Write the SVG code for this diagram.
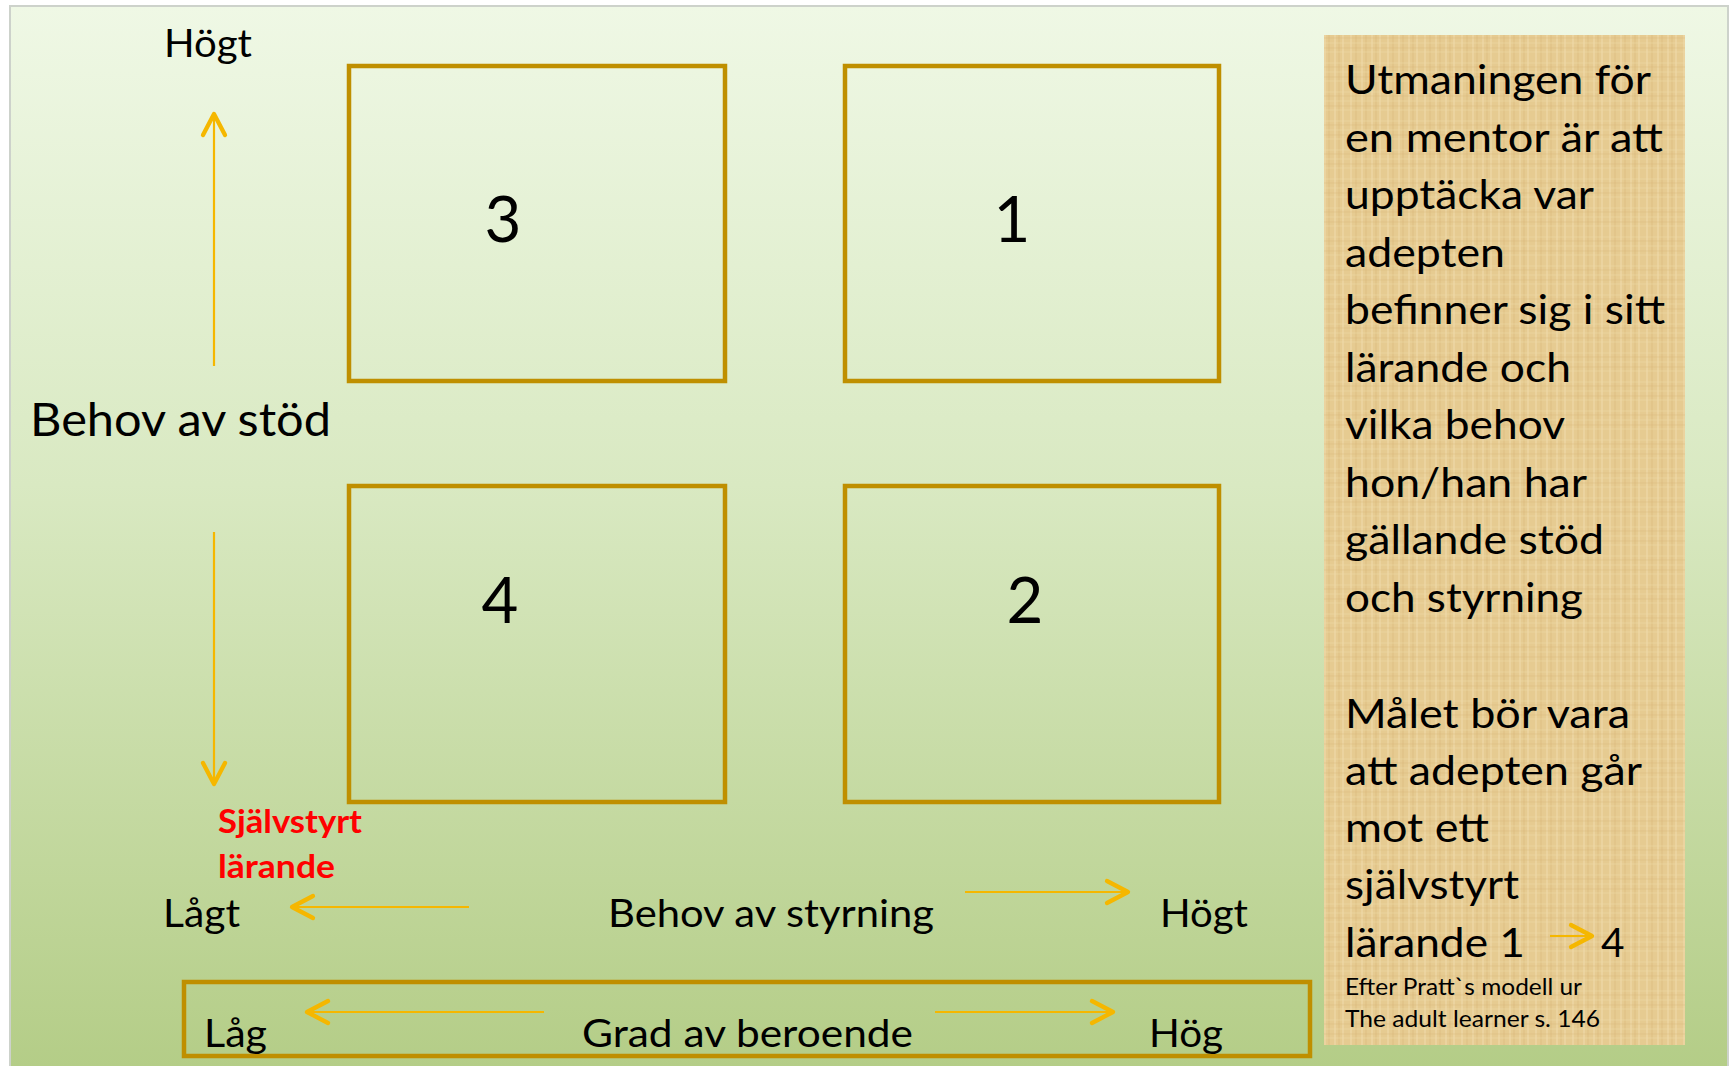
<svg xmlns="http://www.w3.org/2000/svg" width="1731" height="1066" viewBox="0 0 1731 1066">
  <defs>
    <linearGradient id="bg" x1="0" y1="0" x2="0" y2="1">
      <stop offset="0" stop-color="#EFF8E5"/>
      <stop offset="0.45" stop-color="#D9E9C2"/>
      <stop offset="1" stop-color="#B4CD87"/>
    </linearGradient>
    <pattern id="papyrus" x="0" y="0" width="37" height="29" patternUnits="userSpaceOnUse">
      <rect width="37" height="29" fill="#E6CB91"/>
      <path d="M3 0V29M11 0V29M19 0V29M30 0V29" stroke="#F2DDAE" stroke-width="1.5" opacity="0.6"/>
      <path d="M7 0V29M24 0V29M34 0V29" stroke="#D6B473" stroke-width="1" opacity="0.5"/>
      <path d="M0 5H37M0 14H37M0 23H37" stroke="#F0D9A6" stroke-width="1.2" opacity="0.5"/>
      <path d="M0 9H37M0 19H37" stroke="#D4B170" stroke-width="0.8" opacity="0.4"/>
    </pattern>
    <marker id="chev" markerUnits="userSpaceOnUse" markerWidth="34" markerHeight="34" viewBox="-28 -17 34 34" refX="0" refY="0" orient="auto">
      <path d="M-21,-11 L0,0 L-21,11" fill="none" stroke="#F5B700" stroke-width="4.3" stroke-linecap="round" stroke-linejoin="round"/>
    </marker>
    <style>
      .t { font-family: Lato, "Open Sans", "Liberation Sans", sans-serif; fill: #000; }
      .lab { font-size: 38.8px; }
      .big { font-size: 45.9px; }
      .num { font-size: 63.5px; text-anchor: middle; }
      .pan { font-size: 40.6px; }
      .small { font-size: 22.5px; }
      .red { font-size: 31.8px; font-weight: bold; fill: #FF0000; }
      .box { fill: none; stroke: #BF8F00; stroke-width: 4.5; }
      .arr { fill: none; stroke: #F5B700; stroke-width: 2.2; marker-end: url(#chev); }
    </style>
  </defs>

  <rect x="0" y="0" width="1731" height="1066" fill="#FFFFFF"/>
  <rect id="slide" x="10" y="6" width="1718" height="1062" fill="url(#bg)" stroke="#CDD2CB" stroke-width="2"/>

  <g id="panel">
    <rect x="1324" y="35" width="361" height="1010" fill="url(#papyrus)"/>
    <text class="t pan" x="1345" y="94" textLength="306" lengthAdjust="spacingAndGlyphs">Utmaningen för</text>
    <text class="t pan" x="1345" y="151.5" textLength="318" lengthAdjust="spacingAndGlyphs">en mentor är att</text>
    <text class="t pan" x="1345" y="209" textLength="249" lengthAdjust="spacingAndGlyphs">upptäcka var</text>
    <text class="t pan" x="1345" y="266.5" textLength="160" lengthAdjust="spacingAndGlyphs">adepten</text>
    <text class="t pan" x="1345" y="324" textLength="320" lengthAdjust="spacingAndGlyphs">befinner sig i sitt</text>
    <text class="t pan" x="1345" y="381.5" textLength="226" lengthAdjust="spacingAndGlyphs">lärande och</text>
    <text class="t pan" x="1345" y="439" textLength="220" lengthAdjust="spacingAndGlyphs">vilka behov</text>
    <text class="t pan" x="1345" y="496.5" textLength="242" lengthAdjust="spacingAndGlyphs">hon/han har</text>
    <text class="t pan" x="1345" y="554" textLength="259" lengthAdjust="spacingAndGlyphs">gällande stöd</text>
    <text class="t pan" x="1345" y="611.5" textLength="238" lengthAdjust="spacingAndGlyphs">och styrning</text>
    <text class="t pan" x="1345" y="728" textLength="285" lengthAdjust="spacingAndGlyphs">Målet bör vara</text>
    <text class="t pan" x="1345" y="785" textLength="297" lengthAdjust="spacingAndGlyphs">att adepten går</text>
    <text class="t pan" x="1345" y="842" textLength="144" lengthAdjust="spacingAndGlyphs">mot ett</text>
    <text class="t pan" x="1345" y="899" textLength="174" lengthAdjust="spacingAndGlyphs">självstyrt</text>
    <text class="t pan" x="1345" y="957" textLength="180" lengthAdjust="spacingAndGlyphs">lärande 1</text>
    <text class="t pan" x="1601" y="957">4</text>
    <text class="t small" x="1345" y="995" textLength="237" lengthAdjust="spacingAndGlyphs">Efter Pratt`s modell ur</text>
    <text class="t small" x="1345" y="1027" textLength="255" lengthAdjust="spacingAndGlyphs">The adult learner s. 146</text>
  </g>

  <g id="box3">
    <rect class="box" x="349" y="66" width="376" height="315"/>
    <text class="t num" x="503" y="242">3</text>
  </g>
  <g id="box1">
    <rect class="box" x="845" y="66" width="374" height="315"/>
    <text class="t num" x="1012" y="242">1</text>
  </g>
  <g id="box4">
    <rect class="box" x="349" y="486" width="376" height="316"/>
    <text class="t num" x="500" y="623">4</text>
  </g>
  <g id="box2">
    <rect class="box" x="845" y="486" width="374" height="316"/>
    <text class="t num" x="1025" y="623">2</text>
  </g>

  <g id="axis-support">
    <text class="t lab" x="164" y="57" textLength="88" lengthAdjust="spacingAndGlyphs">Högt</text>
    <text class="t big" x="30" y="436" textLength="301" lengthAdjust="spacingAndGlyphs">Behov av stöd</text>
    <text class="t red" x="218" y="833" textLength="144" lengthAdjust="spacingAndGlyphs">Självstyrt</text>
    <text class="t red" x="218" y="878" textLength="117" lengthAdjust="spacingAndGlyphs">lärande</text>
  </g>

  <g id="axis-direction">
    <text class="t lab" x="163" y="927" textLength="77" lengthAdjust="spacingAndGlyphs">Lågt</text>
    <text class="t lab" x="608" y="927" textLength="326" lengthAdjust="spacingAndGlyphs">Behov av styrning</text>
    <text class="t lab" x="1160" y="927" textLength="88" lengthAdjust="spacingAndGlyphs">Högt</text>
  </g>

  <g id="dependence">
    <rect class="box" x="184" y="982" width="1126" height="74"/>
    <text class="t lab" x="204" y="1047" textLength="63" lengthAdjust="spacingAndGlyphs">Låg</text>
    <text class="t lab" x="582" y="1047" textLength="331" lengthAdjust="spacingAndGlyphs">Grad av beroende</text>
    <text class="t lab" x="1149" y="1047" textLength="74" lengthAdjust="spacingAndGlyphs">Hög</text>
  </g>

  <g id="connectors">
    <line class="arr" x1="214" y1="366" x2="214" y2="114"/>
    <line class="arr" x1="214" y1="532" x2="214" y2="784"/>
    <line class="arr" x1="469" y1="907" x2="292" y2="907"/>
    <line class="arr" x1="965" y1="892" x2="1128" y2="892"/>
    <line class="arr" x1="544" y1="1012" x2="307" y2="1012"/>
    <line class="arr" x1="935" y1="1012" x2="1113" y2="1012"/>
    <line class="arr" x1="1550" y1="936" x2="1592" y2="936"/>
  </g>
</svg>
